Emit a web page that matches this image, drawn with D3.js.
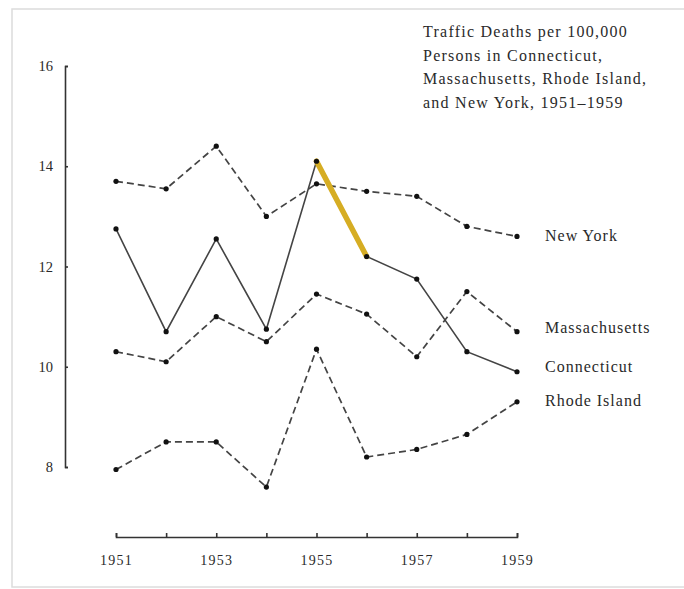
<!DOCTYPE html>
<html>
<head>
<meta charset="utf-8">
<script src="https://cdn.jsdelivr.net/npm/d3@7"></script>
<style>
  body { margin: 0; background: #fff; }
  svg { display: block; }
  text { font-family: "Liberation Serif", "Times New Roman", serif; fill: #2a2a2a; }
</style>
</head>
<body>
<svg id="svg"></svg>
<script>
// chart data
var years = [1951, 1952, 1953, 1954, 1955, 1956, 1957, 1958, 1959];
var newYork       = [13.7, 13.55, 14.4, 13.0, 13.65, 13.5, 13.4, 12.8, 12.6];
var connecticut   = [12.75, 10.7, 12.55, 10.75, 14.1, 12.2, 11.75, 10.3, 9.9];
var massachusetts = [10.3, 10.1, 11.0, 10.5, 11.45, 11.05, 10.2, 11.5, 10.7];
var rhodeIsland   = [7.95, 8.5, 8.5, 7.6, 10.35, 8.2, 8.35, 8.65, 9.3];
var yTicks = [8, 10, 12, 14, 16];
var xLabelYears = [1951, 1953, 1955, 1957, 1959];
var titleLines = [
    "Traffic Deaths per 100,000",
    "Persons in Connecticut,",
    "Massachusetts, Rhode Island,",
    "and New York, 1951\u20131959"
];
var highlightYears = [1955, 1956];   // the yellow segment on connecticut

var width = 684, height = 589;

var series = [
    {name: "New York", values: newYork, dashed: true, labelY: 235},
    {name: "Massachusetts", values: massachusetts, dashed: true, labelY: 327},
    {name: "Connecticut", values: connecticut, dashed: false, labelY: 366},
    {name: "Rhode Island", values: rhodeIsland, dashed: true, labelY: 400}
];

var svg = d3.select("#svg").attr("width", width).attr("height", height);

// faint scan frame
svg.append("rect")
    .attr("x", 12).attr("y", 9)
    .attr("width", width).attr("height", 578)
    .attr("fill", "none")
    .attr("stroke", "#dcdcdc")
    .attr("stroke-width", 1.5);

var x = d3.scaleLinear().domain([1951, 1959]).range([116, 517]);
var y = d3.scaleLinear().domain([8, 16]).range([467, 66]);

// y axis
var yAxis = svg.append("g")
    .attr("transform", "translate(65,0)")
    .call(d3.axisLeft(y).tickValues(yTicks).tickSizeInner(-3).tickSizeOuter(-3).tickPadding(12));
yAxis.selectAll("path, line").attr("stroke", "#333").attr("stroke-width", 1.6);
yAxis.selectAll("text")
    .style("font-family", "'Liberation Serif', serif")
    .style("font-size", "14.5px")
    .attr("fill", "#1e1e1e");

// x axis
var xAxis = svg.append("g")
    .attr("transform", "translate(0,537)")
    .call(d3.axisBottom(x).tickValues(years)
        .tickFormat(function(d){ return xLabelYears.indexOf(d) >= 0 ? String(d) : ""; })
        .tickSizeInner(-4).tickSizeOuter(-4).tickPadding(18));
xAxis.selectAll("path, line").attr("stroke", "#333").attr("stroke-width", 1.6);
xAxis.selectAll("text")
    .style("font-family", "'Liberation Serif', serif")
    .style("font-size", "14px")
    .style("letter-spacing", "1.3px")
    .attr("fill", "#1e1e1e");

var line = d3.line()
    .x(function(d){ return x(d[0]); })
    .y(function(d){ return y(d[1]); });

series.forEach(function(s){
    var pts = years.map(function(yr, i){ return [yr, s.values[i]]; });
    svg.append("path")
        .datum(pts)
        .attr("d", line)
        .attr("fill", "none")
        .attr("stroke", "#444")
        .attr("stroke-width", s.dashed ? 1.7 : 1.6)
        .attr("stroke-dasharray", s.dashed ? "7,4" : null);
});

// highlighted segment
var hl = highlightYears.map(function(yr){ return [yr, connecticut[years.indexOf(yr)]]; });
svg.append("path")
    .datum(hl)
    .attr("d", line)
    .attr("fill", "none")
    .attr("stroke", "#d6ad23")
    .attr("stroke-width", 5.5)
    .attr("stroke-linecap", "round");

// dots
series.forEach(function(s){
    svg.append("g").selectAll("circle")
        .data(s.values)
        .join("circle")
        .attr("cx", function(d, i){ return x(years[i]); })
        .attr("cy", function(d){ return y(d); })
        .attr("r", 2.6)
        .attr("fill", "#111");
});

// series labels
svg.append("g").selectAll("text")
    .data(series)
    .join("text")
    .attr("x", 545)
    .attr("y", function(d){ return d.labelY; })
    .attr("dy", "0.35em")
    .style("font-size", "16px")
    .style("letter-spacing", "1px")
    .text(function(d){ return d.name; });

// title
svg.append("g").selectAll("text")
    .data(titleLines)
    .join("text")
    .attr("x", 423)
    .attr("y", function(d, i){ return 37 + i * 23.5; })
    .style("font-size", "16px")
    .style("letter-spacing", "1.25px")
    .text(function(d){ return d; });
</script>
</body>
</html>
